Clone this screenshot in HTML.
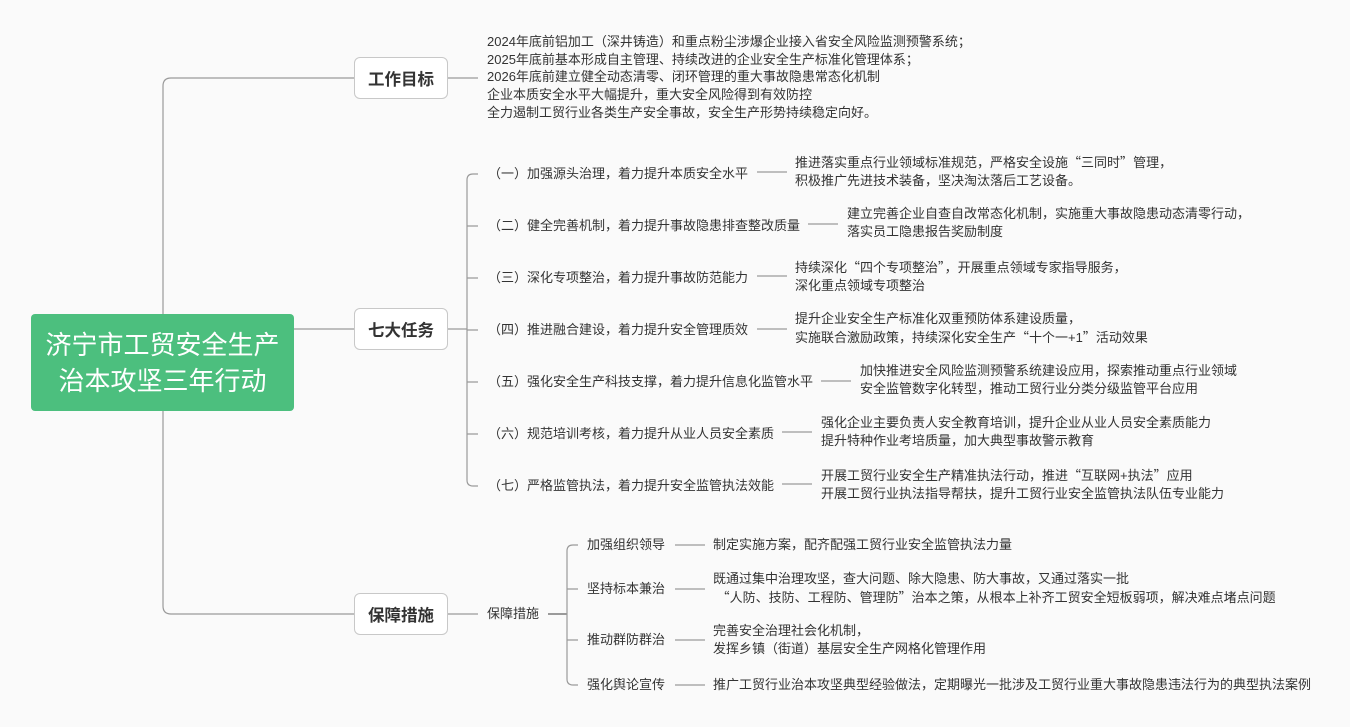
<!DOCTYPE html>
<html><head><meta charset="utf-8"><style>
body{margin:0;width:1350px;height:727px;background:#fafafa;position:relative;overflow:hidden;font-family:"Liberation Sans","Noto Sans CJK SC",sans-serif;color:#333}
.t{position:absolute;font-size:13px;line-height:18px;white-space:nowrap}
.q{font-family:"Noto Sans CJK SC",sans-serif}
.box{position:absolute;width:92px;height:40px;border:1px solid #c8c8c8;border-radius:6px;background:#fff;font-size:16.5px;font-weight:bold;display:flex;align-items:center;justify-content:center;color:#333}
.root{position:absolute;left:31px;top:314px;width:263px;height:97px;background:#4cbf7e;border-radius:4px;color:#fff;font-size:26px;line-height:36px;display:flex;align-items:center;justify-content:center;text-align:center}
svg{position:absolute;left:0;top:0}
</style></head><body>
<svg width="1350" height="727" fill="none" stroke="#9a9a9a" stroke-width="1.2">
<path d="M163 314 V86 Q163 78 171 78 H354"/>
<path d="M163 411 V606 Q163 614 171 614 H354"/>
<path d="M294 329 H354"/>
<path d="M448 78 H478"/>
<path d="M448 329 H467"/>
<path d="M478 174 H473 Q467 174 467 180 V480 Q467 486 473 486 H478"/>
<path d="M467 226 H478 M467 278 H478 M467 382 H478 M467 434 H478 M467 330 H478"/>
<path d="M757 172 H787 M808 224 H838 M757 276 H787 M757 329 H787 M821 381 H851 M782 432 H812 M782 484 H812"/>
<path d="M448 614 H478"/>
<path d="M548 614 H567" stroke-width="2"/>
<path d="M578 545 H573 Q567 545 567 551 V679 Q567 685 573 685 H578 M567 589 H578 M567 640 H578"/>
<path d="M675 545 H705 M675 589 H705 M675 640 H705 M675 685 H705"/>
</svg>
<div class="root">济宁市工贸安全生产<br>治本攻坚三年行动</div>
<div class="box" style="left:354px;top:57px">工作目标</div>
<div class="box" style="left:354px;top:308px">七大任务</div>
<div class="box" style="left:354px;top:593px">保障措施</div>
<div class="t" style="left:487px;top:33px">2024年底前铝加工（深井铸造）和重点粉尘涉爆企业接入省安全风险监测预警系统；</div>
<div class="t" style="left:487px;top:51px">2025年底前基本形成自主管理、持续改进的企业安全生产标准化管理体系；</div>
<div class="t" style="left:487px;top:68px">2026年底前建立健全动态清零、闭环管理的重大事故隐患常态化机制</div>
<div class="t" style="left:487px;top:86px">企业本质安全水平大幅提升，重大安全风险得到有效防控</div>
<div class="t" style="left:487px;top:104px">全力遏制工贸行业各类生产安全事故，安全生产形势持续稳定向好。</div>
<div class="t" style="left:488px;top:165px">（一）加强源头治理，着力提升本质安全水平</div>
<div class="t" style="left:795px;top:153px">推进落实重点行业领域标准规范，严格安全设施<span class="q">“</span>三同时<span class="q">”</span>管理，<br>积极推广先进技术装备，坚决淘汰落后工艺设备。</div>
<div class="t" style="left:488px;top:217px">（二）健全完善机制，着力提升事故隐患排查整改质量</div>
<div class="t" style="left:847px;top:205px">建立完善企业自查自改常态化机制，实施重大事故隐患动态清零行动，<br>落实员工隐患报告奖励制度</div>
<div class="t" style="left:488px;top:269px">（三）深化专项整治，着力提升事故防范能力</div>
<div class="t" style="left:795px;top:258px">持续深化<span class="q">“</span>四个专项整治<span class="q">”</span>，开展重点领域专家指导服务，<br>深化重点领域专项整治</div>
<div class="t" style="left:488px;top:321px">（四）推进融合建设，着力提升安全管理质效</div>
<div class="t" style="left:795px;top:310px">提升企业安全生产标准化双重预防体系建设质量，<br>实施联合激励政策，持续深化安全生产<span class="q">“</span>十个一+1<span class="q">”</span>活动效果</div>
<div class="t" style="left:488px;top:373px">（五）强化安全生产科技支撑，着力提升信息化监管水平</div>
<div class="t" style="left:860px;top:362px">加快推进安全风险监测预警系统建设应用，探索推动重点行业领域<br>安全监管数字化转型，推动工贸行业分类分级监管平台应用</div>
<div class="t" style="left:488px;top:425px">（六）规范培训考核，着力提升从业人员安全素质</div>
<div class="t" style="left:821px;top:414px">强化企业主要负责人安全教育培训，提升企业从业人员安全素质能力<br>提升特种作业考培质量，加大典型事故警示教育</div>
<div class="t" style="left:488px;top:477px">（七）严格监管执法，着力提升安全监管执法效能</div>
<div class="t" style="left:821px;top:466px">开展工贸行业安全生产精准执法行动，推进<span class="q">“</span>互联网+执法<span class="q">”</span>应用<br>开展工贸行业执法指导帮扶，提升工贸行业安全监管执法队伍专业能力</div>
<div class="t" style="left:487px;top:605px">保障措施</div>
<div class="t" style="left:587px;top:536px">加强组织领导</div>
<div class="t" style="left:713px;top:536px">制定实施方案，配齐配强工贸行业安全监管执法力量</div>
<div class="t" style="left:587px;top:580px">坚持标本兼治</div>
<div class="t" style="left:713px;top:570px">既通过集中治理攻坚，查大问题、除大隐患、防大事故，又通过落实一批<br>&nbsp;<span class="q">“</span>人防、技防、工程防、管理防<span class="q">”</span>治本之策，从根本上补齐工贸安全短板弱项，解决难点堵点问题</div>
<div class="t" style="left:587px;top:631px">推动群防群治</div>
<div class="t" style="left:713px;top:622px">完善安全治理社会化机制，<br>发挥乡镇（街道）基层安全生产网格化管理作用</div>
<div class="t" style="left:587px;top:676px">强化舆论宣传</div>
<div class="t" style="left:713px;top:676px">推广工贸行业治本攻坚典型经验做法，定期曝光一批涉及工贸行业重大事故隐患违法行为的典型执法案例</div>
</body></html>
